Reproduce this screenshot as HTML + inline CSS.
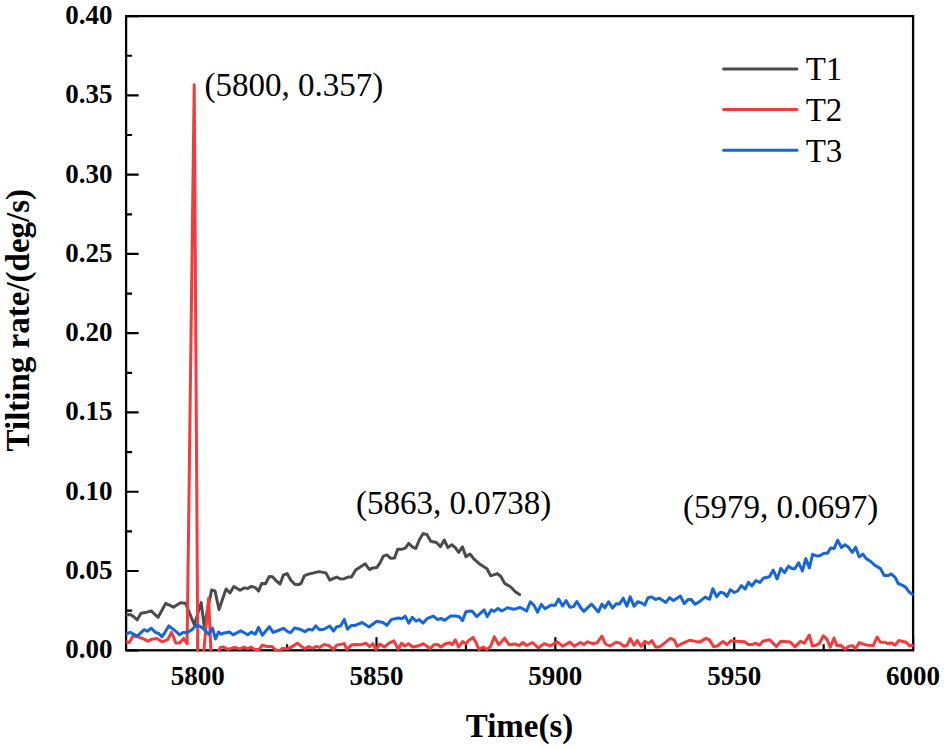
<!DOCTYPE html>
<html><head><meta charset="utf-8"><style>
html,body{margin:0;padding:0;background:#fff;}
svg{display:block;}
text{font-family:"Liberation Serif",serif;}
</style></head><body>
<svg width="944" height="750" viewBox="0 0 944 750">
<defs><clipPath id="c"><rect x="125.8" y="14.900000000000002" width="787.7" height="636.5999999999999"/></clipPath></defs>
<path d="M126.10 650.30H138.60M126.10 571.02H138.60M126.10 491.75H138.60M126.10 412.47H138.60M126.10 333.20H138.60M126.10 253.93H138.60M126.10 174.65H138.60M126.10 95.38H138.60M126.10 16.10H138.60M126.10 610.66H132.10M126.10 531.39H132.10M126.10 452.11H132.10M126.10 372.84H132.10M126.10 293.56H132.10M126.10 214.29H132.10M126.10 135.01H132.10M126.10 55.74H132.10M197.65 650.30V637.30M376.51 650.30V637.30M555.37 650.30V637.30M734.24 650.30V637.30M913.10 650.30V637.30M287.08 650.30V644.30M465.94 650.30V644.30M644.80 650.30V644.30M823.67 650.30V644.30" stroke="#000" stroke-width="2.2" fill="none"/>
<rect x="126.1" y="16.1" width="787.0" height="634.1999999999999" fill="none" stroke="#000" stroke-width="2.3"/>
<g clip-path="url(#c)" fill="none" stroke-width="3" stroke-linejoin="round" stroke-linecap="round">
<polyline stroke="#4b4b4b" points="126.4,615.1 130.2,614.5 133.3,616.4 137.2,619.8 141.0,613.2 145.4,612.6 151.1,610.9 158.1,617.3 165.8,603.3 173.4,607.2 180.4,602.8 185.5,603.3 194.3,624.7 201.2,602.6 204.2,626.4 211.6,590.0 215.0,590.9 219.0,609.5 223.0,597.8 226.1,589.0 230.0,592.9 233.8,586.5 240.0,590.3 244.5,587.9 247.7,588.5 251.5,586.4 255.3,587.6 258.5,591.1 261.7,583.4 265.5,583.8 269.3,576.4 272.5,576.7 276.3,580.9 280.1,584.1 283.3,575.2 287.1,573.6 290.9,580.3 294.7,584.3 298.6,584.7 301.1,583.4 304.3,575.8 308.1,574.2 313.8,572.9 318.9,571.6 325.9,572.9 329.7,580.0 336.7,577.1 340.5,579.0 344.3,578.7 348.1,577.1 351.5,577.1 355.7,570.1 360.2,567.0 365.3,563.8 369.3,569.5 372.9,568.0 376.7,567.6 379.9,563.1 383.3,556.1 386.9,554.9 390.7,558.3 394.5,558.0 397.7,549.2 402.1,549.2 405.3,548.1 408.7,543.4 412.3,546.9 415.8,548.5 419.3,540.0 423.1,533.6 426.9,534.5 430.7,541.3 436.4,542.5 440.5,546.6 444.3,540.0 447.9,547.6 451.7,544.7 454.9,547.2 458.7,552.3 462.5,546.9 465.9,556.8 470.0,554.0 473.8,558.9 479.7,564.1 487.0,568.8 490.7,575.8 497.3,573.6 500.9,576.5 504.6,583.4 510.5,586.8 515.6,592.0 519.6,594.6"/>
<polyline stroke="#f33b3e" points="126.0,641.8 129.5,642.4 132.7,636.1 137.2,636.7 142.9,638.6 148.0,641.2 151.8,639.2 156.9,638.4 162.0,641.8 167.7,639.6 171.5,632.3 175.9,643.1 179.7,642.7 183.6,638.4 187.1,643.7 194.2,84.7 197.8,656.0 200.8,656.0 203.8,651.0 208.6,598.2 211.0,653.0 216.0,656.0 220.4,647.5 223.0,646.9 228.0,649.4 234.4,647.5 240.1,648.9 243.9,647.0 247.7,648.9 250.9,647.0 254.7,649.5 259.2,649.5 262.3,645.1 266.8,646.4 271.9,646.4 275.0,649.5 278.9,651.0 282.7,648.3 287.1,648.9 291.6,647.0 297.3,643.2 301.1,646.1 304.9,648.9 308.7,646.6 312.5,648.3 316.4,646.4 319.5,647.4 324.0,644.4 329.1,645.7 333.5,649.5 336.7,645.1 344.3,643.6 346.9,649.5 351.3,645.1 355.1,644.5 361.4,644.7 365.9,643.2 369.7,646.6 372.9,643.7 376.1,649.6 379.9,644.1 384.3,647.0 389.4,642.8 393.9,640.9 398.3,649.2 401.5,643.2 404.7,646.0 408.5,643.7 412.9,647.0 418.6,645.8 423.1,643.7 426.3,645.8 430.1,648.8 433.9,644.7 437.7,644.5 440.9,647.0 445.3,643.7 449.8,642.8 452.3,644.7 455.3,639.9 458.7,647.0 462.5,641.6 465.9,643.7 468.7,640.4 473.1,637.4 476.0,642.5 478.9,649.4 483.3,647.0 487.0,649.4 490.7,646.2 494.3,636.7 498.7,644.7 504.6,638.2 509.0,644.7 514.9,644.0 519.3,645.5 522.9,642.5 526.6,645.5 532.5,642.5 538.3,648.0 544.2,643.6 550.1,645.9 557.4,641.8 562.6,646.2 569.9,642.1 574.3,646.2 580.2,642.5 583.8,644.4 587.6,641.8 592.7,643.7 597.2,642.7 601.9,636.1 605.4,644.0 609.9,646.0 616.2,642.2 620.0,643.1 623.9,646.3 627.0,645.3 630.2,638.6 634.0,645.3 637.2,640.5 641.0,646.3 644.8,641.4 648.6,643.5 651.8,640.5 655.6,646.9 659.4,646.9 664.5,643.1 670.3,638.4 674.1,639.9 677.2,646.3 683.0,643.1 690.0,640.2 695.7,641.4 700.1,641.9 705.8,638.4 709.6,640.0 713.4,646.4 717.2,646.0 723.0,641.3 726.8,644.7 731.2,640.7 737.0,641.3 744.6,641.7 748.4,644.5 752.2,644.5 756.0,643.2 759.2,645.1 763.0,641.3 769.4,639.7 772.5,642.6 776.4,646.4 780.8,641.3 790.3,641.9 794.8,646.8 800.5,641.3 804.3,643.2 809.3,635.0 812.3,645.9 816.0,645.3 819.6,643.1 823.3,635.8 826.9,639.2 830.3,647.2 834.0,638.0 836.9,645.6 840.9,645.3 845.2,649.2 848.9,646.3 852.5,645.6 855.6,648.7 859.2,642.6 864.1,644.4 867.7,645.3 873.2,645.6 877.1,637.0 880.5,642.3 884.8,642.3 887.8,643.5 891.5,642.9 895.1,645.1 898.8,640.5 906.1,642.3 909.8,645.9 912.0,645.3 914.0,646.0"/>
<polyline stroke="#1565dc" points="126.0,634.2 130.2,632.3 137.2,636.1 144.2,629.7 147.3,631.2 151.1,628.2 155.6,632.5 158.8,633.5 162.0,637.0 168.9,625.9 174.7,630.4 179.7,634.8 183.0,632.5 187.3,632.5 191.7,629.9 196.0,625.5 199.5,626.0 203.8,629.0 208.6,634.2 212.5,628.1 215.5,639.0 218.5,632.0 221.1,634.2 223.0,633.3 229.3,632.0 233.1,634.8 240.7,630.8 247.7,634.7 251.5,632.1 255.3,634.3 258.5,627.3 262.3,635.2 269.3,626.7 273.1,632.4 278.2,630.5 283.3,628.3 288.4,632.1 290.9,632.4 294.7,627.9 299.8,629.2 304.9,631.7 308.7,629.2 312.5,630.1 315.7,625.8 319.5,629.8 324.0,629.2 329.7,626.0 333.5,631.1 336.7,626.7 340.5,626.0 344.3,619.4 347.5,629.2 351.3,625.5 355.1,625.4 362.1,622.5 369.1,627.0 376.7,621.2 383.0,622.5 386.9,625.4 391.3,619.6 398.3,618.0 402.1,618.7 405.3,616.1 408.7,623.1 412.3,617.4 416.1,621.2 419.3,619.6 423.1,623.1 427.5,618.3 433.3,616.1 437.7,619.6 440.9,618.3 444.7,620.3 450.4,616.1 455.5,616.1 459.3,616.8 462.5,620.6 465.9,611.7 470.0,611.0 472.3,611.3 476.7,616.6 484.1,609.8 487.3,616.6 491.4,609.8 494.3,611.3 498.0,608.4 501.7,611.0 507.5,607.8 514.1,609.3 520.0,607.3 526.6,611.0 530.3,601.9 533.9,605.1 537.6,612.2 541.3,604.4 545.0,608.8 551.5,604.9 555.2,605.4 558.6,599.0 562.6,605.9 566.2,600.7 569.9,607.3 573.6,606.6 576.8,601.5 580.9,608.1 583.8,611.3 591.4,604.1 598.4,611.9 601.9,604.1 604.8,607.9 608.6,601.8 612.4,608.1 616.2,603.7 619.4,604.1 623.2,598.2 626.8,606.2 630.2,596.7 634.0,606.2 637.8,601.8 641.0,602.8 644.8,605.0 648.0,597.7 651.8,596.9 655.6,599.5 659.4,598.2 665.8,602.4 669.6,597.7 673.4,600.5 680.4,596.1 684.2,603.7 688.0,599.5 691.2,599.5 695.0,604.3 700.1,601.2 705.2,597.1 709.6,599.3 712.8,588.7 716.6,596.7 720.4,592.3 723.6,592.9 727.0,596.4 730.3,589.7 734.4,592.5 737.6,591.0 741.4,585.7 745.2,589.1 748.4,582.4 751.9,585.9 755.8,580.6 759.8,582.4 763.6,578.0 769.4,576.8 773.2,570.0 777.0,578.9 780.8,568.4 784.6,572.6 788.4,566.2 792.2,568.8 794.8,568.8 798.6,562.8 802.4,570.9 805.8,558.6 809.4,567.9 812.6,554.4 817.2,556.1 820.2,555.5 823.9,553.3 827.5,553.3 830.6,547.9 834.2,548.4 837.6,540.2 841.5,547.5 845.0,544.7 848.2,546.9 852.3,552.4 855.6,547.2 859.2,556.9 862.9,554.2 866.5,558.9 870.8,561.5 874.4,565.0 880.5,568.6 884.2,575.6 887.8,575.6 891.5,574.0 895.1,577.4 898.2,583.5 902.5,585.3 905.5,587.1 909.2,592.0 912.2,594.2 913.3,594.8"/>
</g>

<g font-weight="bold" font-size="27"><text x="112.5" y="658.20" text-anchor="end">0.00</text><text x="112.5" y="578.92" text-anchor="end">0.05</text><text x="112.5" y="499.65" text-anchor="end">0.10</text><text x="112.5" y="420.37" text-anchor="end">0.15</text><text x="112.5" y="341.10" text-anchor="end">0.20</text><text x="112.5" y="261.82" text-anchor="end">0.25</text><text x="112.5" y="182.55" text-anchor="end">0.30</text><text x="112.5" y="103.28" text-anchor="end">0.35</text><text x="112.5" y="24.00" text-anchor="end">0.40</text><text x="197.65" y="685" text-anchor="middle">5800</text><text x="376.51" y="685" text-anchor="middle">5850</text><text x="555.37" y="685" text-anchor="middle">5900</text><text x="734.24" y="685" text-anchor="middle">5950</text><text x="913.10" y="685" text-anchor="middle">6000</text></g>
<text font-weight="bold" font-size="33" x="519.5" y="737.2" text-anchor="middle">Time(s)</text>
<text font-weight="bold" font-size="33" transform="translate(28.8,320.2) rotate(-90)" text-anchor="middle">Tilting rate/(deg/s)</text>
<g stroke-width="3" stroke-linecap="round">
<line x1="723.6" y1="69" x2="796.9" y2="69" stroke="#4b4b4b"/>
<line x1="723.6" y1="109.6" x2="796.9" y2="109.6" stroke="#f33b3e"/>
<line x1="723.6" y1="150.2" x2="796.9" y2="150.2" stroke="#1565dc"/>
</g>
<g font-size="33">
<text x="805.7" y="80.4">T1</text>
<text x="805.7" y="121">T2</text>
<text x="805.7" y="161.6">T3</text>
<text x="204.5" y="96.4">(5800, 0.357)</text>
<text x="356" y="513.8">(5863, 0.0738)</text>
<text x="683" y="517.8">(5979, 0.0697)</text>
</g>
</svg>
</body></html>
